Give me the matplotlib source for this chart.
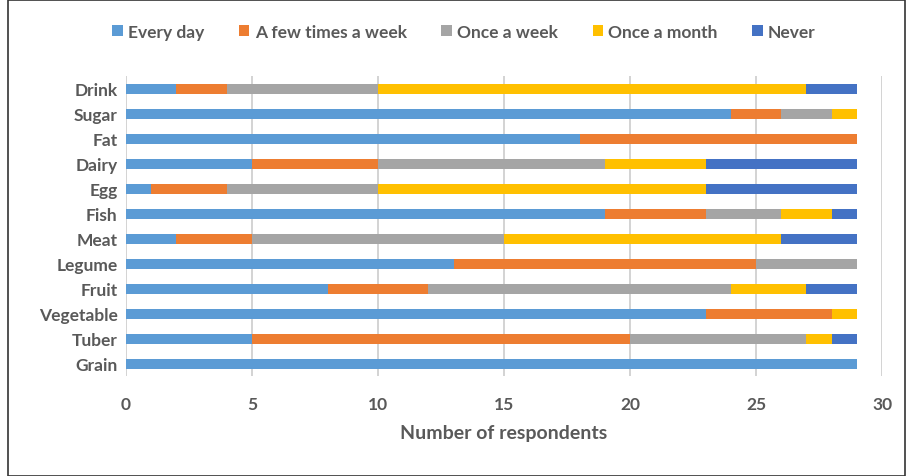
import matplotlib.pyplot as plt
from matplotlib.patches import Rectangle
import numpy as np

plt.rcParams['font.family'] = ['Lato', 'DejaVu Sans']

foods = ["Drink", "Sugar", "Fat", "Dairy", "Egg", "Fish", "Meat",
         "Legume", "Fruit", "Vegetable", "Tuber", "Grain"]
every_day = [2, 24, 18, 5, 1, 19, 2, 13, 8, 23, 5, 29]
few_week = [2, 2, 11, 5, 3, 4, 3, 12, 4, 5, 15, 0]
once_week = [6, 2, 0, 9, 6, 3, 10, 4, 12, 0, 7, 0]
once_month = [17, 1, 0, 4, 13, 2, 11, 0, 3, 1, 1, 0]
never = [2, 0, 0, 6, 6, 1, 3, 0, 2, 0, 1, 0]

series = [every_day, few_week, once_week, once_month, never]
names = ["Every day", "A few times a week", "Once a week", "Once a month", "Never"]
colors = ["#5b9bd5", "#ed7d31", "#a5a5a5", "#ffc000", "#4472c4"]

fig = plt.figure(figsize=(9.1, 4.77), dpi=100)
ax = fig.add_axes([0.1385, 0.2086, 0.8308, 0.629])

y = np.arange(len(foods))
left = np.zeros(len(foods))
for vals, name, c in zip(series, names, colors):
    ax.barh(y, vals, left=left, height=0.42, color=c, label=name, zorder=3)
    left += np.array(vals)

ax.set_ylim(len(foods) - 0.5, -0.5)
ax.set_xlim(0, 30)
ax.set_xticks(range(0, 31, 5))
ax.set_yticks(y)
ax.set_yticklabels(foods)
ax.grid(axis="x", color="#d0d0d0", linewidth=1.3, zorder=0)
for s in ax.spines.values():
    s.set_visible(False)
ax.tick_params(length=0, colors="#595959", labelsize=12.5)
ax.tick_params(axis="x", pad=14)
ax.tick_params(axis="y", pad=6)
for lab in ax.get_xticklabels() + ax.get_yticklabels():
    lab.set_fontweight("bold")
ax.set_xlabel("Number of respondents", fontsize=14, fontweight="bold",
              color="#595959", labelpad=9)

leg = fig.legend(loc="center", bbox_to_anchor=(0.51, 0.931), ncol=5, frameon=False,
                 handlelength=0.6, handleheight=0.6, handletextpad=0.3,
                 columnspacing=2.0, prop={"weight": "bold", "size": 12.5})
for t in leg.get_texts():
    t.set_color("#595959")

fig.patches.append(Rectangle((8 / 910, 0), 897 / 910, 476 / 477, transform=fig.transFigure,
                             fill=False, edgecolor="#333333", linewidth=1.2))

fig.savefig("out.png", dpi=100)
